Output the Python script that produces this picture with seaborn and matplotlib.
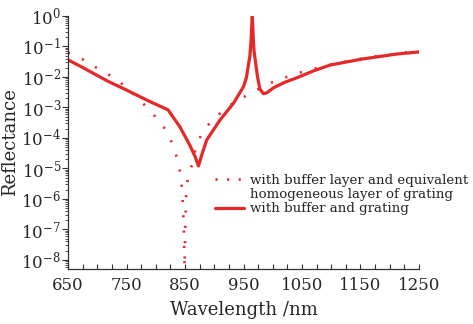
import numpy as np
import pandas as pd
import seaborn as sns
import matplotlib.pyplot as plt
from matplotlib.lines import Line2D
from matplotlib.ticker import MultipleLocator, FixedLocator, LogFormatterSciNotation, NullFormatter

# with buffer and grating (solid)
grating_wl = [650, 675, 693, 720, 750, 790, 805, 821, 841, 858, 867, 873, 878, 887,
              910, 933, 950, 955, 958, 961, 963, 964, 965, 966, 967, 968, 970,
              974, 978, 984, 990, 1001, 1020, 1041, 1070, 1098, 1154, 1212, 1250]
grating_log = [-1.44, -1.69, -1.88, -2.16, -2.43, -2.81, -2.94, -3.08, -3.63, -4.23,
               -4.60, -4.92, -4.60, -4.07, -3.41, -2.86, -2.32, -2.02, -1.66, -1.30,
               -0.80, -0.40, -0.02, -0.40, -0.85, -1.15, -1.44, -2.00, -2.40, -2.55,
               -2.52, -2.36, -2.18, -2.03, -1.80, -1.61, -1.41, -1.25, -1.18]

# with buffer layer and equivalent homogeneous layer of grating (dotted)
equiv_wl = [650, 675, 697, 721, 743, 765, 785, 803, 819, 829, 836, 841, 844, 846,
            848, 849.3, 850.5, 852, 855, 864, 868, 877, 892, 910, 934, 960, 981,
            1004, 1026, 1048, 1070, 1093, 1116, 1139, 1162, 1185, 1207, 1230, 1250]
equiv_log = [-1.20, -1.42, -1.68, -1.94, -2.24, -2.62, -3.00, -3.38, -3.79, -4.23,
             -4.64, -5.07, -5.49, -6.00, -7.00, -8.25, -7.00, -5.90, -5.25, -4.78,
             -4.37, -3.93, -3.52, -3.20, -2.83, -2.56, -2.34, -2.13, -1.99, -1.85,
             -1.74, -1.63, -1.53, -1.44, -1.37, -1.30, -1.25, -1.19, -1.16]

x_ticks = [650, 750, 850, 950, 1050, 1150, 1250]
y_ticks = [1e0, 1e-1, 1e-2, 1e-3, 1e-4, 1e-5, 1e-6, 1e-7, 1e-8]

label_equiv_1 = "with buffer layer and equivalent"
label_equiv_2 = "homogeneous layer of grating"
label_grating = "with buffer and grating"

red = "#e5292b"

sns.set_theme(style="ticks")
plt.rcParams['font.family'] = ['DejaVu Serif']
plt.rcParams['mathtext.fontset'] = 'dejavuserif'

df_g = pd.DataFrame({"wl": grating_wl, "R": 10 ** np.array(grating_log)})
df_e = pd.DataFrame({"wl": equiv_wl, "R": 10 ** np.array(equiv_log)})

fig = plt.figure(figsize=(4.73, 3.24), dpi=100)
ax = fig.add_axes([0.1438, 0.1698, 0.742, 0.781])

sns.lineplot(data=df_e, x="wl", y="R", ax=ax, color=red, lw=1.9,
             linestyle=(0, (0.8, 5.0)), dash_capstyle="butt")
sns.lineplot(data=df_g, x="wl", y="R", ax=ax, color=red, lw=2.3)

ax.set_yscale("log")
ax.set_xticks(x_ticks)
ax.xaxis.set_minor_locator(MultipleLocator(25))
ax.yaxis.set_major_locator(FixedLocator(y_ticks))
ax.yaxis.set_major_formatter(LogFormatterSciNotation())
minor_y = [m * t for t in y_ticks[1:] for m in range(2, 10)] + [m * 1e-9 for m in range(5, 10)]
ax.yaxis.set_minor_locator(FixedLocator(minor_y))
ax.yaxis.set_minor_formatter(NullFormatter())
ax.set_xlim(650, 1250)
ax.set_ylim(10 ** -8.3, 1)

ax.tick_params(axis="x", which="both", direction="in", length=3.5, width=0.8,
               labelsize=12, pad=6, color="#333333")
ax.tick_params(axis="y", which="major", direction="out", length=4, width=0.8,
               labelsize=12, pad=1, color="#333333")
ax.tick_params(axis="y", which="minor", direction="out", length=2, width=0.6,
               color="#333333")

sns.despine(ax=ax)
for s in ["left", "bottom"]:
    ax.spines[s].set_linewidth(0.9)
    ax.spines[s].set_color("#333333")

ax.set_xlabel("Wavelength /nm", fontsize=13, labelpad=5)
ax.set_ylabel("Reflectance", fontsize=13, labelpad=1.5)

handles = [
    Line2D([], [], color=red, lw=1.9, linestyle=(0, (0.8, 3.6))),
    Line2D([], [], color="none"),
    Line2D([], [], color=red, lw=2.3),
]
ax.legend(handles, [label_equiv_1, label_equiv_2, label_grating],
          loc="upper left", bbox_to_anchor=(0.419, 0.375), frameon=False,
          fontsize=9.6, handlelength=2.2, handletextpad=0.45, labelspacing=0.08,
          borderaxespad=0, borderpad=0)

fig.savefig("out.png", dpi=100)
